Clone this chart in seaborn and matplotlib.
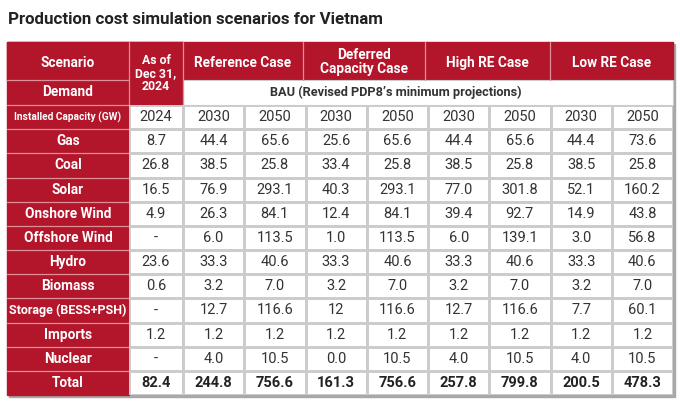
import matplotlib
matplotlib.use("Agg")
import matplotlib.pyplot as plt
from matplotlib.colors import ListedColormap
from matplotlib.patches import Rectangle
import numpy as np
import pandas as pd
import seaborn as sns

sns.set_theme(style="white")
plt.rcParams["font.family"] = ["Roboto", "DejaVu Sans"]

TITLE = "Production cost simulation scenarios for Vietnam"
SCENARIOS = ["Reference Case", "Deferred\nCapacity Case", "High RE Case", "Low RE Case"]
BASE_LABEL = "As of\nDec 31,\n2024"
DEMAND = "BAU (Revised PDP8\u2019s minimum projections)"
BASE_YEAR = "2024"
YEARS = ["2030", "2050"]

techs = ["Gas", "Coal", "Solar", "Onshore Wind", "Offshore Wind", "Hydro",
         "Biomass", "Storage (BESS+PSH)", "Imports", "Nuclear", "Total"]
gas = ["8.7", "44.4", "65.6", "25.6", "65.6", "44.4", "65.6", "44.4", "73.6"]
coal = ["26.8", "38.5", "25.8", "33.4", "25.8", "38.5", "25.8", "38.5", "25.8"]
solar = ["16.5", "76.9", "293.1", "40.3", "293.1", "77.0", "301.8", "52.1", "160.2"]
onshore = ["4.9", "26.3", "84.1", "12.4", "84.1", "39.4", "92.7", "14.9", "43.8"]
offshore = ["-", "6.0", "113.5", "1.0", "113.5", "6.0", "139.1", "3.0", "56.8"]
hydro = ["23.6", "33.3", "40.6", "33.3", "40.6", "33.3", "40.6", "33.3", "40.6"]
biomass = ["0.6", "3.2", "7.0", "3.2", "7.0", "3.2", "7.0", "3.2", "7.0"]
storage = ["-", "12.7", "116.6", "12", "116.6", "12.7", "116.6", "7.7", "60.1"]
imports = ["1.2", "1.2", "1.2", "1.2", "1.2", "1.2", "1.2", "1.2", "1.2"]
nuclear = ["-", "4.0", "10.5", "0.0", "10.5", "4.0", "10.5", "4.0", "10.5"]
total = ["82.4", "244.8", "756.6", "161.3", "756.6", "257.8", "799.8", "200.5", "478.3"]

rows = [gas, coal, solar, onshore, offshore, hydro, biomass, storage, imports, nuclear, total]
year_row = [BASE_YEAR] + YEARS * len(SCENARIOS)
table = pd.DataFrame([year_row] + rows, index=["Installed Capacity (GW)"] + techs)

RED = "#b3152a"
SEP = "#de8f98"
GRID = "#cccccc"
TXT = "#333333"

W, H = 680, 403
fig = plt.figure(figsize=(W / 100, H / 100), dpi=100)
ax = fig.add_axes([0, 0, 1, 1])
ax.set_xlim(0, W)
ax.set_ylim(H, 0)
ax.axis("off")

# layout (pixels)
x_edges = [7, 129, 183, 241, 303, 365, 425, 487, 550, 612, 673]
y_top, y_mid, y_body, y_bot = 42, 80, 105, 395
n_rows = len(table)
rh = (y_bot - y_body) / n_rows

ax.text(8, 20, TITLE, fontsize=12.2, weight="bold", color="#222222", va="center", ha="left")

# shadow + red header blocks
ax.add_patch(Rectangle((x_edges[0] + 2, y_top + 2), x_edges[-1] - x_edges[0], y_bot - y_top,
                       color="#a8a8a8", zorder=0))
ax.add_patch(Rectangle((x_edges[0], y_top), x_edges[-1] - x_edges[0], y_mid - y_top, color=RED, zorder=1))
ax.add_patch(Rectangle((x_edges[0], y_top), x_edges[1] - x_edges[0], y_bot - y_top, color=RED, zorder=1))
ax.add_patch(Rectangle((x_edges[1], y_top), x_edges[2] - x_edges[1], y_body - y_top, color=RED, zorder=1))
ax.add_patch(Rectangle((x_edges[2], y_mid), x_edges[-1] - x_edges[2], y_body - y_mid,
                       facecolor="white", edgecolor=GRID, lw=0.8, zorder=1))

# light separators inside red areas
for x in [x_edges[1], x_edges[2]]:
    ax.plot([x, x], [y_top, y_body], color=SEP, lw=0.9, zorder=2)
for x in x_edges[4:-1:2]:
    ax.plot([x, x], [y_top, y_mid], color=SEP, lw=0.9, zorder=2)
for i in range(n_rows):
    y = y_body + i * rh
    ax.plot([x_edges[0], x_edges[1]], [y, y], color=SEP, lw=0.9, zorder=2)
ax.plot([x_edges[0], x_edges[1]], [y_mid, y_mid], color=SEP, lw=0.9, zorder=2)

# header texts
cx0 = (x_edges[0] + x_edges[1]) / 2
hy = (y_top + y_mid) / 2 + 2
ax.text(cx0, hy, "Scenario", color="white", weight="bold", fontsize=9.8,
        ha="center", va="center", zorder=3)
ax.text(cx0, (y_mid + y_body) / 2, "Demand", color="white", weight="bold", fontsize=9.8,
        ha="center", va="center", zorder=3)
ax.text((x_edges[1] + x_edges[2]) / 2, (y_top + y_body) / 2, BASE_LABEL, color="white", weight="bold",
        fontsize=8.8, ha="center", va="center", linespacing=0.95, zorder=3)
for k, name in enumerate(SCENARIOS):
    xc = (x_edges[2 + 2 * k] + x_edges[4 + 2 * k]) / 2
    ax.text(xc, hy if "\n" not in name else hy - 1, name, color="white", weight="bold", fontsize=9.8,
            ha="center", va="center", linespacing=0.95, zorder=3)
ax.text(396, (y_mid + y_body) / 2, DEMAND, color=TXT, weight="bold",
        fontsize=9.2, ha="center", va="center", zorder=3)

# row labels
for i, lab in enumerate(table.index):
    ax.text(cx0, y_body + (i + 0.5) * rh, lab, color="white", weight="bold",
            fontsize=7.3 if i == 0 else 9.0 if i == 8 else 9.8,
            ha="center", va="center", zorder=3)


def fig_box(x0, x1):
    return [x0 / W, 1 - y_bot / H, (x1 - x0) / W, (y_bot - y_body) / H]


white = ListedColormap(["white"])
blocks = [(table.iloc[:, :1], x_edges[1], x_edges[2]), (table.iloc[:, 1:], x_edges[2], x_edges[-1])]
for part, x0, x1 in blocks:
    hax = fig.add_axes(fig_box(x0, x1))
    sns.heatmap(np.zeros(part.shape), cmap=white, cbar=False, annot=part.values, fmt="",
                linewidths=0.8, linecolor=GRID, xticklabels=False, yticklabels=False,
                annot_kws={"fontsize": 10.5, "color": TXT}, ax=hax)
    ncol = part.shape[1]
    for j, t in enumerate(hax.texts):
        if j // ncol == n_rows - 1:
            t.set_fontweight("bold")
            t.set_color("#222222")

fig.savefig("out.png", dpi=100)
